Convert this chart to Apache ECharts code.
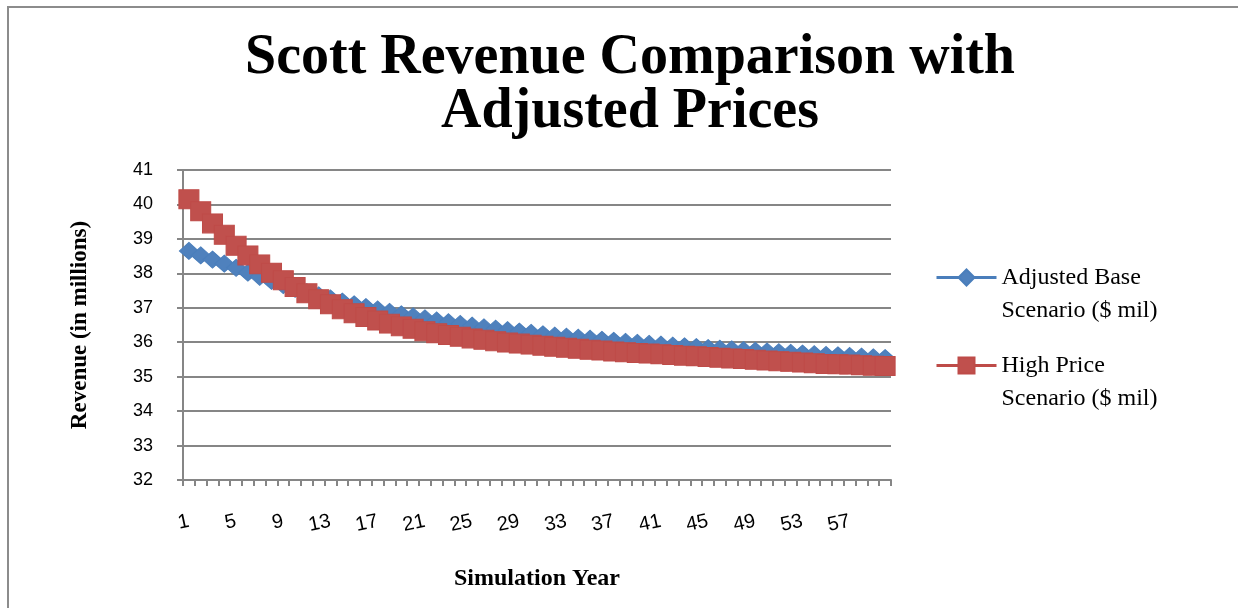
<!DOCTYPE html>
<html>
<head>
<meta charset="utf-8">
<title>Scott Revenue Comparison with Adjusted Prices</title>
<script src="https://cdn.jsdelivr.net/npm/echarts@6/dist/echarts.min.js"></script>
<style>
  html, body { margin: 0; padding: 0; background: #fff; }
  #chart { width: 1238px; height: 608px; }
</style>
</head>
<body>
<div id="chart"></div>
<script>
// Simulation years 1..60
const years = [];
for (let y = 1; y <= 60; y++) years.push(String(y));

// Revenue, $ millions
const adjustedBase = [
  38.65, 38.52, 38.40, 38.28, 38.16, 38.02, 37.90, 37.78, 37.66, 37.55,
  37.45, 37.36, 37.27, 37.18, 37.10, 37.02, 36.95, 36.88, 36.81, 36.75,
  36.69, 36.63, 36.58, 36.53, 36.48, 36.43, 36.39, 36.35, 36.31, 36.27,
  36.23, 36.19, 36.16, 36.13, 36.10, 36.07, 36.04, 36.01, 35.98, 35.95,
  35.93, 35.90, 35.88, 35.86, 35.83, 35.81, 35.79, 35.77, 35.75, 35.73,
  35.71, 35.69, 35.67, 35.65, 35.63, 35.62, 35.60, 35.58, 35.56, 35.54
];
const highPrice = [
  40.15, 39.80, 39.45, 39.12, 38.80, 38.52, 38.26, 38.02, 37.80, 37.60,
  37.42, 37.25, 37.10, 36.96, 36.84, 36.73, 36.63, 36.54, 36.46, 36.39,
  36.32, 36.26, 36.21, 36.16, 36.11, 36.07, 36.03, 35.99, 35.96, 35.93,
  35.90, 35.87, 35.84, 35.81, 35.78, 35.76, 35.73, 35.71, 35.69, 35.67,
  35.65, 35.63, 35.61, 35.59, 35.57, 35.55, 35.53, 35.51, 35.49, 35.47,
  35.45, 35.43, 35.41, 35.39, 35.37, 35.36, 35.35, 35.33, 35.32, 35.31
];

const seriesNames = ['Adjusted Base\nScenario ($ mil)', 'High Price\nScenario ($ mil)'];
const yTicks = { min: 32, max: 41, step: 1 };

const axisGray = '#868686';
const serif = '"Liberation Serif", "Times New Roman", serif';
const sans = '"Liberation Sans", Arial, sans-serif';

const chart = echarts.init(document.getElementById('chart'), null, { renderer: 'canvas' });

chart.setOption({
  backgroundColor: '#ffffff',
  animation: false,
  graphic: [{
    type: 'rect',
    shape: { x: 8, y: 7, width: 1400, height: 800 },
    style: { fill: 'none', stroke: '#8c8c8c', lineWidth: 2 },
    silent: true
  }],
  title: {
    text: 'Scott Revenue Comparison with\nAdjusted Prices',
    left: 625,
    top: 27,
    textAlign: 'center',
    textStyle: {
      fontFamily: serif,
      fontWeight: 'bold',
      fontSize: 56,
      lineHeight: 54,
      color: '#000'
    }
  },
  legend: {
    orient: 'vertical',
    left: 930,
    top: 223,
    itemWidth: 60,
    itemHeight: 20,
    itemGap: -11,
    // a blank leading line keeps the icon level with the first line of the name
    formatter: (name) => ' \n' + name,
    lineStyle: { width: 3 },
    textStyle: {
      fontFamily: serif,
      fontSize: 24,
      lineHeight: 33,
      color: '#000'
    },
    data: seriesNames
  },
  grid: {
    left: 183,
    right: 347,
    top: 170,
    bottom: 128,
    containLabel: false
  },
  xAxis: {
    type: 'category',
    data: years,
    boundaryGap: true,
    name: 'Simulation Year',
    nameLocation: 'middle',
    nameGap: 87,
    nameTextStyle: { fontFamily: serif, fontWeight: 'bold', fontSize: 24, color: '#000' },
    axisLine: { lineStyle: { color: axisGray, width: 2 } },
    axisTick: { show: true, interval: 0, length: 6, lineStyle: { color: axisGray, width: 2 } },
    axisLabel: {
      interval: 3,
      rotate: 12,
      margin: 41,
      fontFamily: sans,
      fontSize: 20,
      color: '#000'
    },
    splitLine: { show: false }
  },
  yAxis: {
    type: 'value',
    min: yTicks.min,
    max: yTicks.max,
    interval: yTicks.step,
    name: 'Revenue (in millions)',
    nameLocation: 'middle',
    nameRotate: 90,
    nameGap: 91,
    nameTextStyle: { fontFamily: serif, fontWeight: 'bold', fontSize: 23, color: '#000' },
    axisLine: { show: true, lineStyle: { color: axisGray, width: 2 } },
    axisTick: { show: true, length: 6, lineStyle: { color: axisGray, width: 2 } },
    axisLabel: { margin: 30, fontFamily: sans, fontSize: 18, color: '#000' },
    splitLine: { show: true, lineStyle: { color: axisGray, width: 2 } }
  },
  series: [
    {
      name: seriesNames[0],
      type: 'line',
      data: adjustedBase,
      symbol: 'diamond',
      symbolSize: [19, 17],
      showAllSymbol: true,
      lineStyle: { color: '#4A7EBB', width: 3 },
      itemStyle: { color: '#4F81BD', borderColor: '#4A7EBB', borderWidth: 1 }
    },
    {
      name: seriesNames[1],
      type: 'line',
      data: highPrice,
      symbol: 'rect',
      symbolSize: [20, 19],
      showAllSymbol: true,
      lineStyle: { color: '#BE4B48', width: 3 },
      itemStyle: { color: '#C0504D', borderColor: '#BE4B48', borderWidth: 1 }
    }
  ]
});
</script>
</body>
</html>
